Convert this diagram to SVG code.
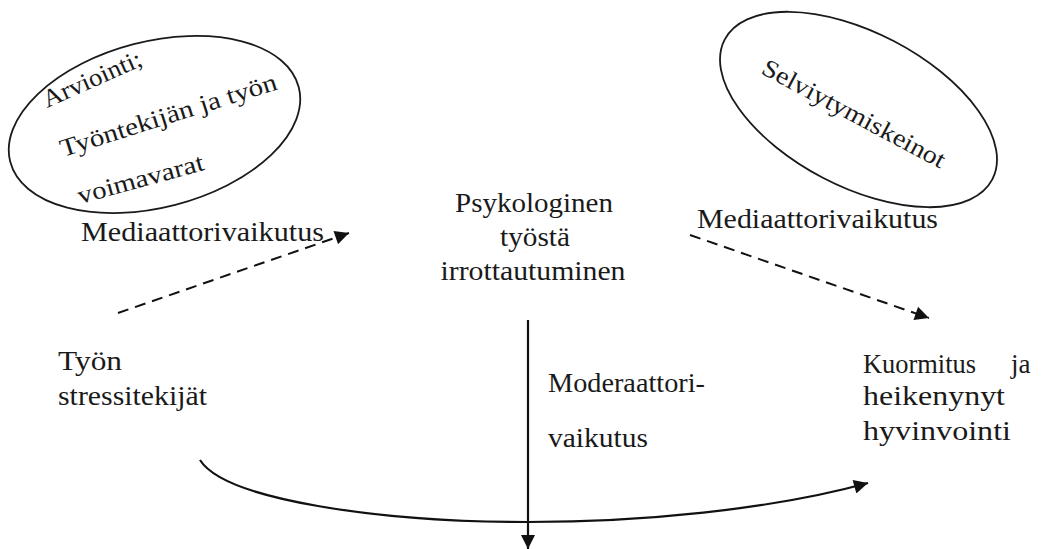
<svg xmlns="http://www.w3.org/2000/svg" width="1045" height="549" viewBox="0 0 1045 549">
  <style>
    text { font-family: "Liberation Serif", "Times New Roman", serif; font-size: 27px; fill: #1a1a1a; }
    .ov { font-size: 25px; }
    .oval { fill: none; stroke: #1a1a1a; stroke-width: 1.8; }
    .solid { fill: none; stroke: #111; stroke-width: 2.2; }
    .dash { fill: none; stroke: #111; stroke-width: 2; stroke-dasharray: 11 7; }
  </style>
  <defs>
    <marker id="head" viewBox="0 0 10 10" refX="10" refY="5" markerWidth="17" markerHeight="14" markerUnits="userSpaceOnUse" orient="auto">
      <path d="M0,0 L10,5 L0,10 Z" fill="#111"/>
    </marker>
  </defs>
  <rect width="1045" height="549" fill="#fff"/>

  <g id="appraisal">
    <ellipse class="oval" cx="154.5" cy="124.5" rx="149" ry="83" transform="rotate(-14.5 154.5 124.5)"/>
    <text class="ov" x="47" y="108" textLength="106" lengthAdjust="spacingAndGlyphs" transform="rotate(-24 47 108)">Arviointi;</text>
    <text class="ov" x="63" y="157" textLength="226" lengthAdjust="spacingAndGlyphs" transform="rotate(-17.5 63 157)">Työntekijän ja työn</text>
    <text class="ov" x="80" y="204" textLength="130" lengthAdjust="spacingAndGlyphs" transform="rotate(-15.3 80 204)">voimavarat</text>
  </g>

  <g id="coping">
    <ellipse class="oval" cx="858.5" cy="109.5" rx="151" ry="77" transform="rotate(27.6 858.5 109.5)"/>
    <text class="ov" x="760" y="73" textLength="204" lengthAdjust="spacingAndGlyphs" transform="rotate(28 760 73)">Selviytymiskeinot</text>
  </g>

  <g id="detachment" text-anchor="middle">
    <text x="534" y="212" textLength="158" lengthAdjust="spacingAndGlyphs">Psykologinen</text>
    <text x="535" y="246" textLength="70" lengthAdjust="spacingAndGlyphs">työstä</text>
    <text x="533" y="280" textLength="185" lengthAdjust="spacingAndGlyphs">irrottautuminen</text>
  </g>

  <g id="stressors">
    <text x="58" y="370" textLength="64" lengthAdjust="spacingAndGlyphs">Työn</text>
    <text x="58" y="405" textLength="149" lengthAdjust="spacingAndGlyphs">stressitekijät</text>
  </g>

  <g id="strain">
    <text x="863" y="373" textLength="113" lengthAdjust="spacingAndGlyphs">Kuormitus</text>
    <text x="1011" y="373">ja</text>
    <text x="863" y="405" textLength="142" lengthAdjust="spacingAndGlyphs">heikenynyt</text>
    <text x="863" y="440" textLength="148" lengthAdjust="spacingAndGlyphs">hyvinvointi</text>
  </g>

  <g id="connectors">
    <path class="dash" d="M118,313 L349,233" marker-end="url(#head)"/>
    <path class="dash" d="M690,235 L929,318" marker-end="url(#head)"/>
    <path class="solid" d="M528,320 L528,549" marker-end="url(#head)"/>
    <path class="solid" d="M200,460 C225,500 380,522 528,522 C640,522 770,510 868,483" marker-end="url(#head)"/>
    <text x="81" y="241" textLength="243" lengthAdjust="spacingAndGlyphs">Mediaattorivaikutus</text>
    <text x="697" y="228" textLength="241" lengthAdjust="spacingAndGlyphs">Mediaattorivaikutus</text>
    <text x="548" y="392" textLength="157" lengthAdjust="spacingAndGlyphs">Moderaattori-</text>
    <text x="548" y="447" textLength="100" lengthAdjust="spacingAndGlyphs">vaikutus</text>
  </g>
</svg>
